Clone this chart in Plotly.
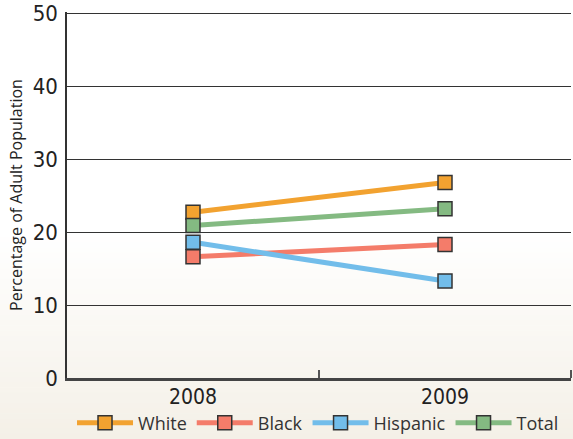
import plotly.graph_objects as go

years = ["2008", "2009"]
series_names = ["White", "Black", "Hispanic", "Total"]
white = [22.7, 26.8]
black = [16.6, 18.3]
hispanic = [18.6, 13.3]
total = [20.9, 23.2]
colors = ["#F2A230", "#F47C6A", "#72BDEA", "#84BA82"]
y_ticks = [0, 10, 20, 30, 40, 50]

W, H = 573, 439
ML, MR, MT, MB = 67, 2, 12, 61
PH = H - MT - MB
PW = W - ML - MR
YMAX = 50.15

fig = go.Figure()
xpos = list(range(len(years)))
for name, vals, col in zip(series_names, [white, black, hispanic, total], colors):
    fig.add_trace(go.Scatter(
        x=xpos, y=vals, name=name, mode="lines+markers",
        line=dict(color=col, width=5),
        marker=dict(symbol="square", size=14, color=col,
                    line=dict(color="#333333", width=1.5)),
    ))

# background gradient (white above the 20 line to beige at bottom)
shapes = []
top_px = 232
n = 40
c0 = (255, 255, 255)
c1 = (244, 240, 231)
for i in range(n):
    p0 = top_px + (H - top_px) * i / n
    p1 = top_px + (H - top_px) * (i + 1) / n + 0.5
    t = (i + 0.5) / n
    c = tuple(round(a + (b - a) * t) for a, b in zip(c0, c1))
    shapes.append(dict(
        type="rect", xref="paper", yref="paper", layer="below",
        x0=-ML / PW - 0.01, x1=1 + MR / PW + 0.01,
        y0=(H - MB - p1) / PH, y1=(H - MB - p0) / PH,
        line=dict(width=0), fillcolor="rgb(%d,%d,%d)" % c,
    ))

tickfam = "DejaVu Sans Condensed"

fig.update_layout(
    width=W, height=H,
    margin=dict(l=ML, r=MR, t=MT, b=MB, autoexpand=False),
    paper_bgcolor="white", plot_bgcolor="rgba(0,0,0,0)",
    shapes=shapes,
    showlegend=True,
    legend=dict(orientation="h", xref="container", yref="container",
                x=0.555, xanchor="center", y=16 / H, yanchor="middle",
                font=dict(family="Open Sans, sans-serif", size=18, color="#333333"),
                itemwidth=56, bgcolor="rgba(0,0,0,0)", tracegroupgap=0),
    xaxis=dict(range=[-0.5, 1.5], tickvals=xpos, ticktext=years, ticks="",
               showgrid=False, zeroline=False,
               showline=True, linecolor="#444444", linewidth=2.5,
               ticklabelstandoff=-2,
               tickfont=dict(family=tickfam, size=21, color="#222222"),
               minor=dict(tickmode="array", tickvals=[0.5, 1.5], ticks="inside",
                          ticklen=8, tickwidth=1.5, tickcolor="#555555", showgrid=False)),
    yaxis=dict(range=[0, YMAX], tickvals=y_ticks, ticks="",
               showgrid=True, gridcolor="#333333", gridwidth=1.2,
               zeroline=False, showline=True, linecolor="#333333", linewidth=1.5,
               ticklabelstandoff=3,
               tickfont=dict(family=tickfam, size=22, color="#222222"),
               title=dict(text="Percentage of Adult Population", standoff=6,
                          font=dict(family="Open Sans, sans-serif", size=16, color="#222222"))),
)

fig.write_html("out.html")
